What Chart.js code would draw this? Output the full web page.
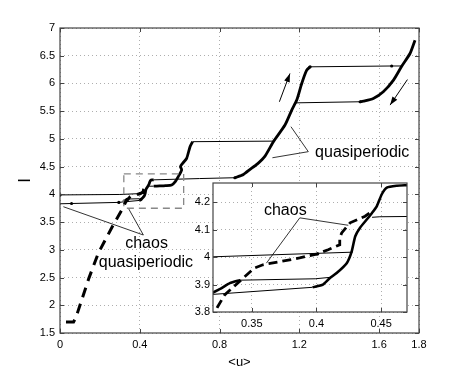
<!DOCTYPE html>
<html>
<head>
<meta charset="utf-8">
<script src="https://cdn.jsdelivr.net/npm/chart.js@4"></script>
<style>
  body { margin: 0; background: #fff; }
  #wrap { position: relative; width: 463px; height: 375px; }
  canvas { position: absolute; left: 0; top: 0; }
</style>
</head>
<body>
<div id="wrap">
  <canvas id="main" width="463" height="375"></canvas>
  <canvas id="mainDash" width="463" height="375"></canvas>
  <canvas id="inset" width="463" height="375"></canvas>
  <canvas id="insetDash" width="463" height="375"></canvas>
</div>
<script>
// tick labels
var xTicks = [0, 0.4, 0.8, 1.2, 1.6, 1.8];
var yTicks = [1.5, 2, 2.5, 3, 3.5, 4, 4.5, 5, 5.5, 6, 6.5, 7];
var insetXTicks = [0.35, 0.4, 0.45];
var insetYTicks = [3.8, 3.9, 4, 4.1, 4.2];

// dashed branch (chaos)
var dashX = [0.03, 0.068, 0.08, 0.09, 0.145, 0.192, 0.264, 0.318, 0.3237, 0.329, 0.3418, 0.352, 0.3586, 0.37, 0.387, 0.401, 0.409, 0.418, 0.418, 0.4195, 0.426, 0.4376, 0.4428];
var dashY = [1.70, 1.70, 1.78, 1.89, 2.49, 2.94, 3.43, 3.77, 3.82, 3.862, 3.917, 3.96, 3.972, 3.982, 3.997, 4.012, 4.027, 4.045, 4.07, 4.088, 4.125, 4.149, 4.167];

// thick solid pieces
var k0X = [0.316, 0.326, 0.333, 0.341];
var k0Y = [3.862, 3.885, 3.905, 3.916];
var k1X = [0.397, 0.405, 0.41, 0.4156, 0.4234, 0.4272, 0.43, 0.4337, 0.4389, 0.4428, 0.4467, 0.4505, 0.4544, 0.4622, 0.47];
var k1Y = [3.89, 3.90, 3.922, 3.942, 3.978, 4.02, 4.076, 4.107, 4.137, 4.16, 4.186, 4.229, 4.253, 4.26, 4.262];
var k2X = [0.47, 0.5, 0.53, 0.56, 0.578, 0.593, 0.61, 0.604, 0.615, 0.635, 0.652, 0.665];
var k2Y = [4.148, 4.152, 4.158, 4.17, 4.23, 4.32, 4.44, 4.5, 4.56, 4.65, 4.86, 4.95];
var k3X = [0.877, 0.92, 0.953, 0.99, 1.028, 1.07, 1.128, 1.162, 1.187, 1.212, 1.237, 1.254];
var k3Y = [4.30, 4.36, 4.45, 4.55, 4.69, 4.95, 5.25, 5.52, 5.70, 6.0, 6.24, 6.30];
var k4X = [1.505, 1.521, 1.571, 1.621, 1.672, 1.714, 1.755, 1.78];
var k4Y = [5.67, 5.68, 5.73, 5.85, 6.06, 6.315, 6.54, 6.78];

// thin jumps
var t1X = [0, 0.3, 0.428];       var t1Y = [3.99, 3.998, 4.018];
var t2X = [0, 0.058, 0.295, 0.3133, 0.397]; var t2Y = [3.83, 3.835, 3.855, 3.862, 3.89];
var t3X = [0.341, 0.399, 0.41];  var t3Y = [3.916, 3.921, 3.926];
var t4X = [0.443, 0.449, 0.47];  var t4Y = [4.145, 4.147, 4.148];
var t5X = [0.47, 0.7, 0.877];    var t5Y = [4.262, 4.285, 4.30];
var t6X = [0.665, 1.07];         var t6Y = [4.95, 4.96];
var t7X = [1.254, 1.663, 1.714]; var t7Y = [6.30, 6.315, 6.315];
var t8X = [1.178, 1.505];        var t8Y = [5.65, 5.67];

// small markers on the thin lines
var dotX = [0, 0.058, 0.295, 0.877, 1.254, 1.663, 1.505, 0.401];
var dotY = [3.99, 3.835, 3.855, 4.30, 6.30, 6.315, 5.67, 4.012];

// zoom box [x0, x1, y0, y1]
var zoomBox = [0.32, 0.62, 3.75, 4.37];

var FONT = '"Liberation Sans", Arial, sans-serif';

function pts(xs, ys) {
  return xs.map(function (x, i) { return { x: x, y: ys[i] }; });
}

function dashSet(w, dash) {
  return { data: pts(dashX, dashY), borderColor: '#000', borderWidth: w, borderDash: dash, pointRadius: 0, tension: 0 };
}

function solidSets(thick) {
  var sets = [];
  [[k0X, k0Y], [k1X, k1Y], [k2X, k2Y], [k3X, k3Y], [k4X, k4Y]].forEach(function (s) {
    sets.push({ data: pts(s[0], s[1]), borderColor: '#000', borderWidth: thick, pointRadius: 0, tension: 0.2 });
  });
  [[t1X, t1Y], [t2X, t2Y], [t3X, t3Y], [t4X, t4Y], [t5X, t5Y], [t6X, t6Y], [t7X, t7Y], [t8X, t8Y]].forEach(function (s) {
    sets.push({ data: pts(s[0], s[1]), borderColor: '#000', borderWidth: 1, pointRadius: 0 });
  });
  sets.push({ data: pts(dotX, dotY), showLine: false, pointRadius: 1.6, pointBackgroundColor: '#000', pointBorderWidth: 0 });
  return sets;
}

// inward ticks + box frame
var framePlugin = {
  id: 'frame',
  afterDraw: function (chart) {
    var ctx = chart.ctx, a = chart.chartArea;
    ctx.save();
    ctx.setLineDash([]);
    ctx.strokeStyle = '#444';
    ctx.lineWidth = 1;
    ctx.beginPath();
    chart.scales.x.ticks.forEach(function (t) {
      var p = Math.round(chart.scales.x.getPixelForValue(t.value)) + 0.5;
      ctx.moveTo(p, a.bottom); ctx.lineTo(p, a.bottom - 4);
      ctx.moveTo(p, a.top); ctx.lineTo(p, a.top + 4);
    });
    chart.scales.y.ticks.forEach(function (t) {
      var p = Math.round(chart.scales.y.getPixelForValue(t.value)) + 0.5;
      ctx.moveTo(a.left, p); ctx.lineTo(a.left + 4, p);
      ctx.moveTo(a.right, p); ctx.lineTo(a.right - 4, p);
    });
    ctx.stroke();
    ctx.lineWidth = 1.2;
    ctx.strokeRect(a.left, a.top, a.right - a.left, a.bottom - a.top);
    ctx.restore();
  }
};

var bgPlugin = {
  id: 'bg',
  beforeDraw: function (chart) {
    var a = chart.chartArea, ctx = chart.ctx;
    ctx.save();
    ctx.fillStyle = '#fff';
    ctx.fillRect(a.left, a.top, a.right - a.left, a.bottom - a.top);
    ctx.restore();
  }
};

function arrow(ctx, x1, y1, x2, y2) {
  var ang = Math.atan2(y2 - y1, x2 - x1), L = 9, w = 0.33;
  ctx.beginPath(); ctx.moveTo(x1, y1); ctx.lineTo(x2, y2); ctx.stroke();
  ctx.beginPath();
  ctx.moveTo(x2, y2);
  ctx.lineTo(x2 - L * Math.cos(ang - w), y2 - L * Math.sin(ang - w));
  ctx.lineTo(x2 - L * Math.cos(ang + w), y2 - L * Math.sin(ang + w));
  ctx.closePath(); ctx.fill();
}

// notes: pointer lines, arrows, labels placed in data coords
var notePlugin = {
  id: 'notes',
  afterDatasetsDraw: function (chart, args, opts) {
    var ctx = chart.ctx, sx = chart.scales.x, sy = chart.scales.y;
    function P(v) { return [sx.getPixelForValue(v[0]), sy.getPixelForValue(v[1])]; }
    ctx.save();
    ctx.setLineDash([]);
    ctx.strokeStyle = '#000'; ctx.fillStyle = '#000'; ctx.lineWidth = 0.8;
    (opts.lines || []).forEach(function (l) {
      var a = P(l[0]), b = P(l[1]);
      ctx.beginPath(); ctx.moveTo(a[0], a[1]); ctx.lineTo(b[0], b[1]); ctx.stroke();
    });
    ctx.lineWidth = 1;
    (opts.arrows || []).forEach(function (l) {
      var a = P(l[0]), b = P(l[1]);
      arrow(ctx, a[0], a[1], b[0], b[1]);
    });
    ctx.font = '16px ' + FONT; ctx.textBaseline = 'middle';
    (opts.texts || []).forEach(function (t) {
      var p = P(t.at);
      ctx.textAlign = t.align || 'center';
      ctx.fillText(t.text, p[0], p[1]);
    });
    if (opts.rect) {
      var r = opts.rect, p0 = P([r[0], r[3]]), p1 = P([r[1], r[2]]);
      ctx.strokeStyle = '#888'; ctx.lineWidth = 1.3; ctx.setLineDash([7, 5]);
      ctx.strokeRect(p0[0], p0[1], p1[0] - p0[0], p1[1] - p0[1]);
      ctx.setLineDash([]);
    }
    if (opts.xTitle) {
      var a = chart.chartArea;
      ctx.font = '13px ' + FONT; ctx.textAlign = 'center';
      ctx.fillText(opts.xTitle, (a.left + a.right) / 2, a.bottom + 29);
      ctx.save();
      ctx.translate(25, (a.top + a.bottom) / 2);
      ctx.rotate(-Math.PI / 2);
      ctx.font = '17px ' + FONT;
      ctx.fillText(opts.yTitle, 0, 0);
      ctx.restore();
    }
    ctx.restore();
  }
};

function axis(min, max, ticks, size, pad, isX, bare) {
  return {
    type: 'linear', min: min, max: max,
    afterBuildTicks: function (s) { s.ticks = ticks.map(function (v) { return { value: v }; }); },
    afterFit: function (s) { if (isX) { s.height = size; } else { s.width = size; } },
    grid: { display: !bare, color: '#999', lineWidth: 0.8, drawTicks: false },
    border: { display: false, dash: [1, 3] },
    ticks: {
      color: bare ? 'rgba(0,0,0,0)' : '#000', padding: pad, maxRotation: 0, autoSkip: false,
      font: { family: FONT, size: 11 },
      callback: function (v) { return String(Math.round(v * 100) / 100); }
    }
  };
}

var mainPad = { left: 0, right: 44, top: 28, bottom: 0 };
var insetPad = { left: 0, right: 56, top: 183, bottom: 0 };

new Chart(document.getElementById('main'), {
  type: 'line',
  data: { datasets: solidSets(2.8) },
  plugins: [framePlugin, notePlugin],
  options: {
    responsive: false, animation: false,
    layout: { padding: mainPad },
    scales: {
      x: axis(0, 1.8, xTicks, 42, 5, true),
      y: axis(1.5, 7, yTicks, 60, 5, false)
    },
    plugins: {
      legend: { display: false }, tooltip: { enabled: false },
      notes: {
        rect: zoomBox,
        xTitle: '<u>', yTitle: 'I',
        lines: [
          [[1.245, 4.77], [1.158, 5.22]], [[1.245, 4.77], [1.065, 4.66]],
          [[0.418, 3.267], [0.017, 3.777]], [[0.418, 3.267], [0.343, 3.748]]
        ],
        arrows: [
          [[1.10, 5.67], [1.153, 6.18]],
          [[1.742, 6.07], [1.655, 5.61]]
        ],
        texts: [
          { text: 'quasiperiodic', at: [1.279, 4.751], align: 'left' },
          { text: 'chaos', at: [0.434, 3.105] },
          { text: 'quasiperiodic', at: [0.431, 2.767] }
        ]
      }
    }
  }
});

// dashed branch on its own layer, same axes as the main plot
new Chart(document.getElementById('mainDash'), {
  type: 'line',
  data: { datasets: [dashSet(3, [10, 7])] },
  options: {
    responsive: false, animation: false,
    layout: { padding: mainPad },
    scales: {
      x: axis(0, 1.8, xTicks, 42, 5, true, true),
      y: axis(1.5, 7, yTicks, 60, 5, false, true)
    },
    plugins: { legend: { display: false }, tooltip: { enabled: false } }
  }
});

new Chart(document.getElementById('inset'), {
  type: 'line',
  data: { datasets: solidSets(2.6) },
  plugins: [bgPlugin, framePlugin, notePlugin],
  options: {
    responsive: false, animation: false,
    layout: { padding: insetPad },
    scales: {
      x: axis(0.32, 0.47, insetXTicks, 63, 5, true),
      y: axis(3.8, 4.27, insetYTicks, 213, 3, false)
    },
    plugins: {
      legend: { display: false }, tooltip: { enabled: false },
      notes: {
        lines: [
          [[0.3871, 4.143], [0.3613, 3.978]], [[0.3871, 4.143], [0.4246, 4.116]]
        ],
        texts: [ { text: 'chaos', at: [0.3759, 4.171] } ]
      }
    }
  }
});

// dashed branch for the inset, same axes as the inset
new Chart(document.getElementById('insetDash'), {
  type: 'line',
  data: { datasets: [dashSet(2.8, [9, 5])] },
  options: {
    responsive: false, animation: false,
    layout: { padding: insetPad },
    scales: {
      x: axis(0.32, 0.47, insetXTicks, 63, 5, true, true),
      y: axis(3.8, 4.27, insetYTicks, 213, 3, false, true)
    },
    plugins: { legend: { display: false }, tooltip: { enabled: false } }
  }
});
</script>
</body>
</html>
